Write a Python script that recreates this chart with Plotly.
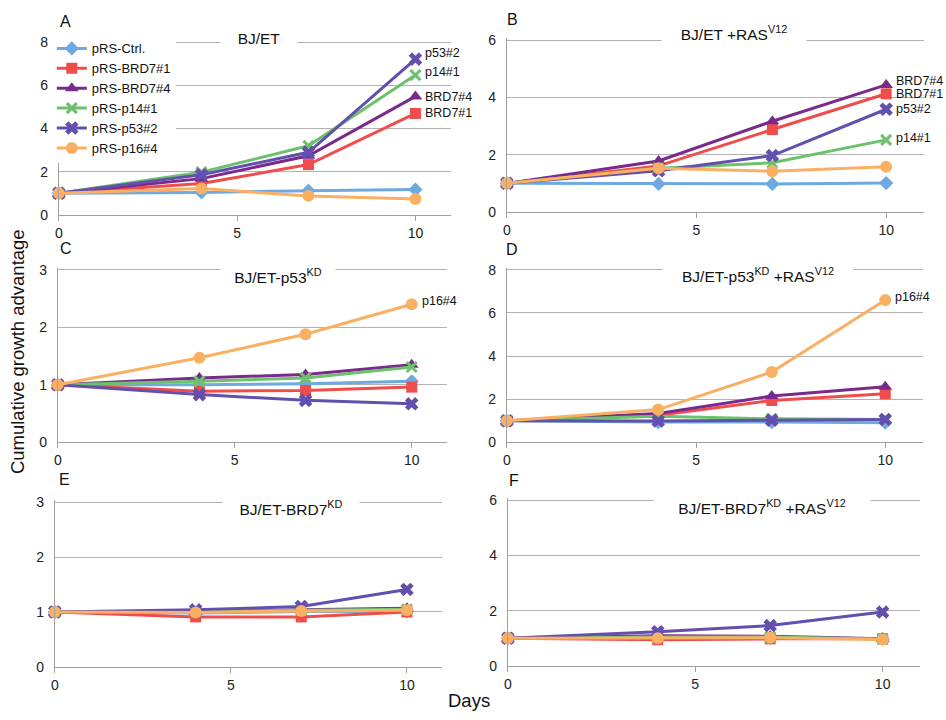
import plotly.graph_objects as go

W, H = 946, 720
FONT = "Liberation Sans, Arial, sans-serif"

days = [0, 4, 7, 10]
series = ["pRS-Ctrl.", "pRS-BRD7#1", "pRS-BRD7#4", "pRS-p14#1", "pRS-p53#2", "pRS-p16#4"]
colors = ["#6eaae0", "#ef4c4c", "#7a2a8c", "#6cc26c", "#6350ae", "#fab062"]
symbols = ["diamond", "square", "triangle-up", "x-thin", "x", "circle"]
marker_sizes = [11, 11, 12, 10, 12, 12]

# Series order: Ctrl, BRD7#1, BRD7#4, p14#1, p53#2, p16#4
panel_a = [
    [1.0, 1.04, 1.12, 1.17],
    [1.0, 1.45, 2.33, 4.70],
    [1.0, 1.68, 2.74, 5.49],
    [1.0, 1.98, 3.20, 6.48],
    [1.0, 1.86, 2.90, 7.22],
    [1.0, 1.22, 0.88, 0.73],
]
panel_b = [
    [1.0, 0.98, 0.98, 1.01],
    [1.0, 1.61, 2.88, 4.13],
    [1.0, 1.78, 3.17, 4.44],
    [1.0, 1.53, 1.72, 2.52],
    [1.0, 1.44, 1.97, 3.59],
    [1.0, 1.53, 1.42, 1.58],
]
panel_c = [
    [1.0, 1.00, 1.02, 1.06],
    [1.0, 0.89, 0.90, 0.96],
    [1.0, 1.12, 1.18, 1.35],
    [1.0, 1.06, 1.12, 1.31],
    [1.0, 0.83, 0.73, 0.67],
    [1.0, 1.47, 1.88, 2.40],
]
panel_d = [
    [1.0, 0.94, 0.94, 0.91],
    [1.0, 1.26, 1.94, 2.25],
    [1.0, 1.34, 2.15, 2.58],
    [1.0, 1.21, 1.09, 1.06],
    [1.0, 0.99, 1.03, 1.06],
    [1.0, 1.52, 3.26, 6.60],
]
panel_e = [
    [1.0, 0.98, 1.01, 1.01],
    [1.0, 0.91, 0.91, 1.00],
    [1.0, 1.00, 1.04, 1.07],
    [1.0, 1.01, 1.03, 1.05],
    [1.0, 1.04, 1.10, 1.41],
    [1.0, 0.99, 1.02, 1.03],
]
panel_f = [
    [1.0, 1.00, 1.02, 0.98],
    [1.0, 0.95, 0.98, 0.98],
    [1.0, 1.09, 1.07, 0.98],
    [1.0, 1.05, 1.05, 0.97],
    [1.0, 1.24, 1.46, 1.95],
    [1.0, 1.00, 1.02, 0.96],
]
panels = [panel_a, panel_b, panel_c, panel_d, panel_e, panel_f]

panel_letters = ["A", "B", "C", "D", "E", "F"]
panel_titles = [
    "BJ/ET",
    "BJ/ET +RAS<sup>V12</sup>",
    "BJ/ET-p53<sup>KD</sup>",
    "BJ/ET-p53<sup>KD</sup> +RAS<sup>V12</sup>",
    "BJ/ET-BRD7<sup>KD</sup>",
    "BJ/ET-BRD7<sup>KD</sup> +RAS<sup>V12</sup>",
]
y_max = [8, 6, 3, 8, 3, 6]
y_dtick = [2, 2, 1, 2, 1, 2]
x_max = 11
x_ticks = [0, 5, 10]

# End-of-line labels: (panel index, text, y value in data units)
end_labels = [
    (0, "p53#2", 7.49), (0, "p14#1", 6.62), (0, "BRD7#4", 5.48), (0, "BRD7#1", 4.70),
    (1, "BRD7#4", 4.59), (1, "BRD7#1", 4.11), (1, "p53#2", 3.60), (1, "p14#1", 2.57),
    (2, "p16#4", 2.45),
    (3, "p16#4", 6.73),
]

# layout geometry in pixels (left, right, top gridline, bottom axis)
boxes = [
    (55, 449, 37, 213),
    (505, 924, 35, 210),
    (54, 445, 269, 445),
    (505, 923, 269, 445),
    (51, 440, 506, 674),
    (506, 920, 504, 673),
]
EXTRA = 2  # px of headroom so the top gridline is drawn
# title: center x px, center y px, white gap width px
title_pos = [(256, 33, 74), (733, 28, 142), (275, 275, 112), (757, 274, 188), (288, 512, 134), (761, 511, 214)]
letter_pos = [(62, 16), (511, 14), (62, 247), (510, 248), (61, 483), (512, 484)]

fig = go.Figure()
annotations = []
layout_axes = {}

for i, data in enumerate(panels):
    suffix = "" if i == 0 else str(i + 1)
    xa, ya = "x" + suffix, "y" + suffix
    for s, vals in enumerate(data):
        marker = dict(symbol=symbols[s], size=marker_sizes[s], color=colors[s])
        if symbols[s] == "x-thin":
            marker["line"] = dict(width=3, color=colors[s])
        else:
            marker["line"] = dict(width=0)
        fig.add_trace(go.Scatter(
            x=days, y=vals, mode="lines+markers", name=series[s],
            line=dict(color=colors[s], width=3), marker=marker,
            xaxis=xa, yaxis=ya, showlegend=(i == 0), cliponaxis=False,
        ))
    l, r, t, b = boxes[i]
    top = t - EXTRA
    ytop = y_max[i] * (b - top) / (b - t)
    layout_axes["xaxis" + suffix] = dict(
        domain=[l / W, r / W], range=[0, x_max], anchor=ya,
        tickvals=x_ticks, showgrid=False, zeroline=False,
        showline=True, linecolor="#a0a0a0", linewidth=1,
        ticks="outside", ticklen=5, tickcolor="#a0a0a0",
        tickfont=dict(family=FONT, size=14, color="#222"),
    )
    layout_axes["yaxis" + suffix] = dict(
        domain=[1 - b / H, 1 - top / H], range=[0, ytop], anchor=xa,
        tickmode="linear", dtick=y_dtick[i], tick0=0,
        showgrid=True, gridcolor="#b2b2b2", gridwidth=1,
        zeroline=False, showline=True, linecolor="#a0a0a0", linewidth=1,
        ticks="", ticklabelstandoff=7,
        tickfont=dict(family=FONT, size=14, color="#222"),
    )
    cx, cy, gw = title_pos[i]
    annotations.append(dict(
        text=panel_titles[i], xref="paper", yref="paper", x=cx / W, y=1 - cy / H,
        xanchor="center", yanchor="middle", showarrow=False, bgcolor="white",
        width=gw, height=24, font=dict(family=FONT, size=15.5, color="#111"),
    ))
    lx, ly = letter_pos[i]
    annotations.append(dict(
        text=panel_letters[i], xref="paper", yref="paper", x=lx / W, y=1 - ly / H,
        xanchor="center", yanchor="middle", showarrow=False,
        font=dict(family=FONT, size=16, color="#111"),
    ))

for pi, txt, yv in end_labels:
    suffix = "" if pi == 0 else str(pi + 1)
    annotations.append(dict(
        text=txt, xref="x" + suffix, yref="y" + suffix, x=days[-1], y=yv,
        xanchor="left", yanchor="middle", xshift=8, showarrow=False,
        font=dict(family=FONT, size=12.5, color="#111"),
    ))

annotations.append(dict(
    text="Cumulative growth advantage", xref="paper", yref="paper",
    x=13 / W, y=1 - 352 / H, textangle=-90, xanchor="center", yanchor="middle",
    showarrow=False, font=dict(family=FONT, size=18.5, color="#111"),
))
annotations.append(dict(
    text="Days", xref="paper", yref="paper", x=467 / W, y=1 - 708 / H,
    xanchor="center", yanchor="middle", showarrow=False,
    font=dict(family=FONT, size=18.5, color="#111"),
))

fig.update_layout(
    width=W, height=H, margin=dict(l=0, r=0, t=0, b=0),
    paper_bgcolor="white", plot_bgcolor="white",
    showlegend=True,
    legend=dict(x=48 / W, y=1 - 28 / H, xanchor="left", yanchor="top",
                bgcolor="white", font=dict(family=FONT, size=13, color="#111"),
                itemwidth=30, tracegroupgap=0, borderwidth=0),
    annotations=annotations,
    **layout_axes,
)

fig.write_html("out.html")
